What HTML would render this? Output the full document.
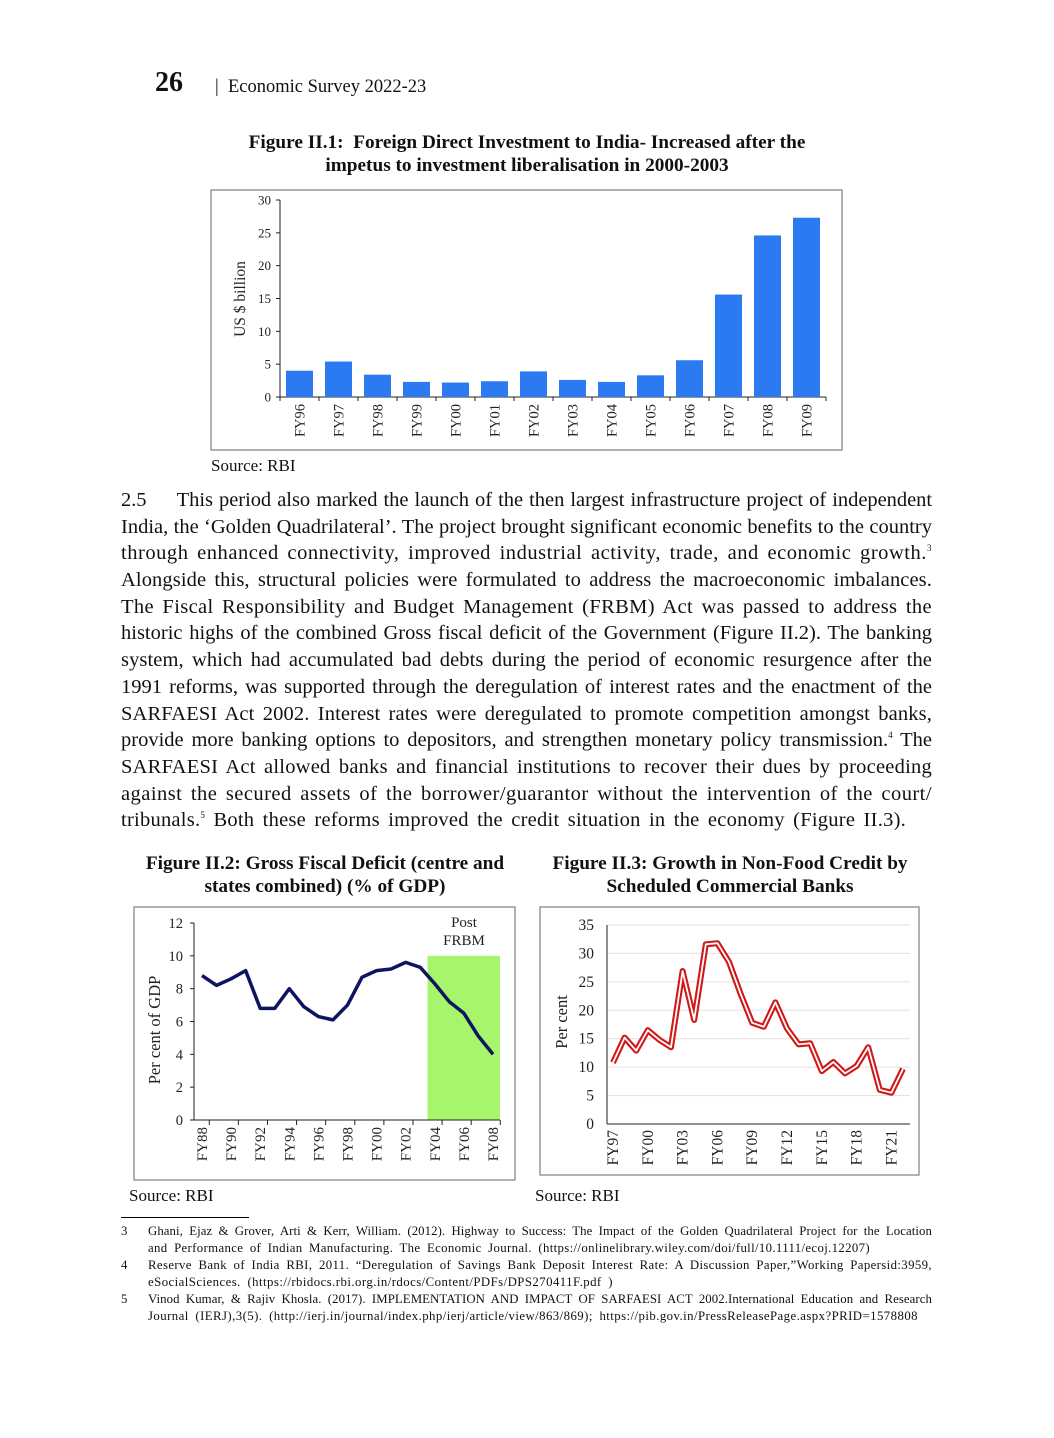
<!DOCTYPE html>
<html><head><meta charset="utf-8">
<style>
body{margin:0;background:#fff;}
#page{position:relative;width:1054px;height:1438px;overflow:hidden;font-family:"Liberation Serif",serif;color:#111;}
.abs{position:absolute;}
.title{font-weight:bold;font-size:19.3px;text-align:center;line-height:23px;white-space:nowrap;}
.para{left:121px;top:487px;width:811px;font-size:20.5px;line-height:26.7px;}
.line{white-space:nowrap;height:26.7px;}
.line span{display:inline-block;}
.fn{font-size:12.8px;line-height:17px;}
.fl{white-space:nowrap;height:17px;}
.fl span{display:inline-block;}
.src{font-size:17px;}
sup{font-size:9px;vertical-align:0;position:relative;top:-8px;line-height:0;}
svg text{font-family:"Liberation Serif",serif;fill:#222;}
</style></head><body>
<div id="page">
<div class="abs" style="left:155px;top:67px;font-size:28px;font-weight:bold;">26</div>
<div class="abs" style="left:215px;top:77px;font-size:18.5px;">|&nbsp; Economic Survey 2022-23</div>

<div class="abs title" style="left:177px;top:131px;width:700px;">Figure II.1:&nbsp; Foreign Direct Investment to India- Increased after the<br>impetus to investment liberalisation in 2000-2003</div>
<div class="abs src" style="left:211px;top:456px;">Source: RBI</div>

<div class="abs para">
<div class="line fit" data-w="811"><span>2.5&nbsp;&nbsp;&nbsp;&nbsp; This period also marked the launch of the then largest infrastructure project of independent</span></div>
<div class="line fit" data-w="811"><span>India, the ‘Golden Quadrilateral’. The project brought significant economic benefits to the country</span></div>
<div class="line fit" data-w="811"><span>through enhanced connectivity, improved industrial activity, trade, and economic growth.<sup>3</sup></span></div>
<div class="line fit" data-w="811"><span>Alongside this, structural policies were formulated to address the macroeconomic imbalances.</span></div>
<div class="line fit" data-w="811"><span>The Fiscal Responsibility and Budget Management (FRBM) Act was passed to address the</span></div>
<div class="line fit" data-w="811"><span>historic highs of the combined Gross fiscal deficit of the Government (Figure II.2). The banking</span></div>
<div class="line fit" data-w="811"><span>system, which had accumulated bad debts during the period of economic resurgence after the</span></div>
<div class="line fit" data-w="811"><span>1991 reforms, was supported through the deregulation of interest rates and the enactment of the</span></div>
<div class="line fit" data-w="811"><span>SARFAESI Act 2002. Interest rates were deregulated to promote competition amongst banks,</span></div>
<div class="line fit" data-w="811"><span>provide more banking options to depositors, and strengthen monetary policy transmission.<sup>4</sup> The</span></div>
<div class="line fit" data-w="811"><span>SARFAESI Act allowed banks and financial institutions to recover their dues by proceeding</span></div>
<div class="line fit" data-w="811"><span>against the secured assets of the borrower/guarantor without the intervention of the court/</span></div>
<div class="line fit" data-w="785"><span>tribunals.<sup>5</sup> Both these reforms improved the credit situation in the economy (Figure II.3).</span></div>
</div>

<div class="abs title" style="left:125px;top:852px;width:400px;">Figure II.2: Gross Fiscal Deficit (centre and<br>states combined) (% of GDP)</div>
<div class="abs title" style="left:530px;top:852px;width:400px;">Figure II.3: Growth in Non-Food Credit by<br>Scheduled Commercial Banks</div>
<div class="abs src" style="left:129px;top:1186px;">Source: RBI</div>
<div class="abs src" style="left:535px;top:1186px;">Source: RBI</div>

<div class="abs" style="left:121px;top:1217px;width:128px;border-top:1px solid #000;"></div>
<div class="abs fn" style="left:121px;top:1223px;width:811px;">
<div class="fl"><span style="width:27px">3</span><span class="fit" data-w="784"><span>Ghani, Ejaz &amp; Grover, Arti &amp; Kerr, William. (2012). Highway to Success: The Impact of the Golden Quadrilateral Project for the Location</span></span></div>
<div class="fl"><span style="width:27px"></span><span class="fit" data-w="722"><span>and Performance of Indian Manufacturing. The Economic Journal. (https://onlinelibrary.wiley.com/doi/full/10.1111/ecoj.12207)</span></span></div>
<div class="fl"><span style="width:27px">4</span><span class="fit" data-w="784"><span>Reserve Bank of India RBI, 2011. “Deregulation of Savings Bank Deposit Interest Rate: A Discussion Paper,”Working Papersid:3959,</span></span></div>
<div class="fl"><span style="width:27px"></span><span class="fit" data-w="465"><span>eSocialSciences. (https://rbidocs.rbi.org.in/rdocs/Content/PDFs/DPS270411F.pdf )</span></span></div>
<div class="fl"><span style="width:27px">5</span><span class="fit" data-w="784"><span>Vinod Kumar, &amp; Rajiv Khosla. (2017). IMPLEMENTATION AND IMPACT OF SARFAESI ACT 2002.International Education and Research</span></span></div>
<div class="fl"><span style="width:27px"></span><span class="fit" data-w="770"><span>Journal (IERJ),3(5). (http://ierj.in/journal/index.php/ierj/article/view/863/869); https://pib.gov.in/PressReleasePage.aspx?PRID=1578808</span></span></div>
</div>

<svg id="charts" class="abs" style="left:0;top:0" width="1054" height="1438"></svg>
</div>
<script>
// fit justified lines: word spacing within limits, rest via letter spacing
document.querySelectorAll('.fit').forEach(el=>{
 const s=el.querySelector('span');const W=+el.getAttribute('data-w');
 const txt=s.textContent;const spaces=(txt.match(/ /g)||[]).length;
 const w=s.getBoundingClientRect().width;
 if(spaces>0){let ws=(W-w)/spaces;ws=Math.max(-2,Math.min(3,ws));s.style.wordSpacing=ws+'px';}
 const w2=s.getBoundingClientRect().width;
 if(Math.abs(w2-W)>1){s.style.letterSpacing=((W-w2)/txt.length)+'px';}
});

// Figure II.1 data
const fdiCats=["FY96","FY97","FY98","FY99","FY00","FY01","FY02","FY03","FY04","FY05","FY06","FY07","FY08","FY09"];
const fdiVals=[4.0,5.4,3.4,2.3,2.2,2.4,3.9,2.6,2.3,3.3,5.6,15.6,24.6,27.3];
const fdiTicks=[0,5,10,15,20,25,30];
// Figure II.2 data
const gfdCats=["FY88","FY89","FY90","FY91","FY92","FY93","FY94","FY95","FY96","FY97","FY98","FY99","FY00","FY01","FY02","FY03","FY04","FY05","FY06","FY07","FY08"];
const gfdVals=[8.8,8.2,8.6,9.1,6.8,6.8,8.0,6.9,6.3,6.1,7.0,8.7,9.1,9.2,9.6,9.3,8.3,7.2,6.5,5.1,4.0];
const gfdTicks=[0,2,4,6,8,10,12];
// Figure II.3 data
const nfcCats=["FY97","FY98","FY99","FY00","FY01","FY02","FY03","FY04","FY05","FY06","FY07","FY08","FY09","FY10","FY11","FY12","FY13","FY14","FY15","FY16","FY17","FY18","FY19","FY20","FY21","FY22"];
const nfcVals=[10.8,15.2,12.9,16.5,14.8,13.5,26.9,18.3,31.6,31.8,28.5,22.9,17.8,17.1,21.4,16.8,14.0,14.2,9.3,10.9,8.9,10.2,13.5,6.0,5.5,9.7];
const nfcTicks=[0,5,10,15,20,25,30,35];

const svg=document.getElementById('charts');
const NS='http://www.w3.org/2000/svg';
function mk(tag,attrs,parent){const e=document.createElementNS(NS,tag);for(const k in attrs)e.setAttribute(k,attrs[k]);(parent||svg).appendChild(e);return e;}

// ---------- Chart 1 ----------
{
const g=mk('g',{});


const fr=mk('rect',{x:211,y:190,width:631,height:260,fill:'none',stroke:'#888','stroke-width':1.3},g);


const x0=280,x1=826,y0=397,y1=200,ymax=30;
const sy=v=>y0-(v/ymax)*(y0-y1);
const band=(x1-x0)/fdiCats.length;
mk('line',{x1:x0,y1:y1,x2:x0,y2:y0,stroke:'#222'},g);
mk('line',{x1:x0,y1:y0,x2:x1,y2:y0,stroke:'#222'},g);
fdiTicks.forEach(t=>{
 mk('line',{x1:x0-4,y1:sy(t),x2:x0,y2:sy(t),stroke:'#222'},g);
 const tx=mk('text',{x:x0-9,y:sy(t)+4.5,'text-anchor':'end','font-size':13},g);tx.textContent=t;
 
 
});
for(let i=0;i<=fdiCats.length;i++)mk('line',{x1:x0+i*band,y1:y0,x2:x0+i*band,y2:y0+4,stroke:'#222'},g);
fdiCats.forEach((c,i)=>{
 const cx=x0+band*(i+0.5);
 const r=mk('rect',{x:cx-13.5,y:sy(fdiVals[i]),width:27,height:y0-sy(fdiVals[i]),fill:'#2b7af2'},g);
 
 
 const t=mk('text',{x:0,y:0,'text-anchor':'end','font-size':14.5,transform:`translate(${cx+5},${y0+7}) rotate(-90)`},g);t.textContent=c;
 
 
});
const yt=mk('text',{x:0,y:0,'text-anchor':'middle','font-size':15.5,transform:'translate(245,299) rotate(-90)'},g);yt.textContent='US $ billion';


}

// ---------- Chart 2 ----------
{
const g=mk('g',{});


const fr=mk('rect',{x:134,y:907,width:381,height:273,fill:'none',stroke:'#888','stroke-width':1.3},g);


const x0=194,x1=500,y0=1120,y1=923,ymax=12;
const sy=v=>y0-(v/ymax)*(y0-y1);
const step=(493-202)/(gfdCats.length-1);
const sx=i=>202+step*i;
const bi=gfdCats.indexOf('FY04');
const sh=mk('rect',{x:sx(bi)-step*0.5,y:sy(10),width:x1-(sx(bi)-step*0.5),height:y0-sy(10),fill:'#a6f56a'},g);


const lb=mk('text',{x:464,y:927,'text-anchor':'middle','font-size':15},g);lb.innerHTML='<tspan x="464">Post</tspan><tspan x="464" dy="18">FRBM</tspan>';


mk('line',{x1:x0,y1:y1,x2:x0,y2:y0,stroke:'#222'},g);
mk('line',{x1:x0,y1:y0,x2:x1,y2:y0,stroke:'#222'},g);
gfdTicks.forEach(t=>{
 mk('line',{x1:x0-4,y1:sy(t),x2:x0,y2:sy(t),stroke:'#222'},g);
 const tx=mk('text',{x:x0-11,y:sy(t)+5,'text-anchor':'end','font-size':14.5},g);tx.textContent=t;
 
 
});
gfdCats.forEach((c,i)=>{
 if(i%2===0){
  mk('line',{x1:sx(i)+step*0.5,y1:y0,x2:sx(i)+step*0.5,y2:y0+5,stroke:'#222'},g);
  const t=mk('text',{x:0,y:0,'text-anchor':'end','font-size':15,transform:`translate(${sx(i)+5},${y0+7}) rotate(-90)`},g);t.textContent=c;
  
  
 }
});
const p=mk('polyline',{points:gfdVals.map((v,i)=>sx(i)+','+sy(v)).join(' '),fill:'none',stroke:'#0d1560','stroke-width':3.5,'stroke-linejoin':'round'},g);


const yt=mk('text',{x:0,y:0,'text-anchor':'middle','font-size':16.5,transform:'translate(160,1030) rotate(-90)'},g);yt.textContent='Per cent of GDP';


}

// ---------- Chart 3 ----------
{
const g=mk('g',{});


const fr=mk('rect',{x:540,y:907,width:379,height:268,fill:'none',stroke:'#888','stroke-width':1.3},g);


const x0=607,x1=910,y0=1124,y1=925,ymax=35;
const sy=v=>y0-(v/ymax)*(y0-y1);
const sx=i=>613+i*11.6;
nfcTicks.forEach(t=>{
 if(t>0){const gl=mk('line',{x1:x0,y1:sy(t),x2:x1,y2:sy(t),stroke:'#e0e0e0'},g);
 
 }
 const tx=mk('text',{x:x0-13,y:sy(t)+5,'text-anchor':'end','font-size':15.5},g);tx.textContent=t;
 
 
});
mk('line',{x1:x0,y1:y1,x2:x0,y2:y0,stroke:'#222'},g);
mk('line',{x1:x0,y1:y0,x2:x1,y2:y0,stroke:'#222'},g);
nfcCats.forEach((c,i)=>{
 if(i%3===0){
  const t=mk('text',{x:0,y:0,'text-anchor':'end','font-size':15.5,transform:`translate(${sx(i)+5},${y0+6}) rotate(-90)`},g);t.textContent=c;
  
  
 }
});
const pts=nfcVals.map((v,i)=>sx(i)+','+sy(v)).join(' ');
const p1=mk('polyline',{points:pts,fill:'none',stroke:'#d01818','stroke-width':6,'stroke-linejoin':'round'},g);


mk('polyline',{points:pts,fill:'none',stroke:'#fff','stroke-width':1.8,'stroke-linejoin':'round'},g);
const yt=mk('text',{x:0,y:0,'text-anchor':'middle','font-size':16.5,transform:'translate(567,1022) rotate(-90)'},g);yt.textContent='Per cent';


}
</script>
</body></html>
